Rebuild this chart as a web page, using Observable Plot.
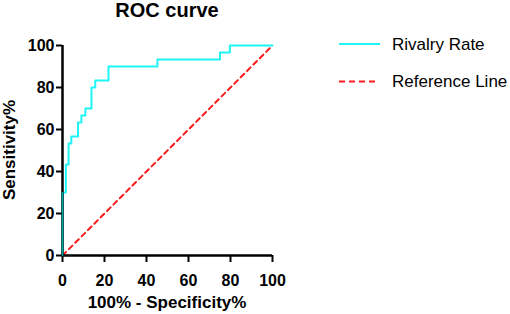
<!DOCTYPE html>
<html>
<head>
<meta charset="utf-8">
<script src="https://cdn.jsdelivr.net/npm/d3@7"></script>
<script src="https://cdn.jsdelivr.net/npm/@observablehq/plot@0.6"></script>
<style>
  html, body { margin: 0; padding: 0; background: #fff; }
  svg { font-family: "Liberation Sans", Arial, sans-serif; }
</style>
</head>
<body>
<div id="chart"></div>
<script>
// ROC curve steps: 100% - Specificity% (x) and Sensitivity% (y)
const fpr = [0, 0, 1.6, 1.6, 2.9, 2.9, 4.2, 4.2, 7.4, 7.4, 9.0, 9.0, 10.9, 10.9, 13.8, 13.8, 15.6, 15.6, 21.9, 21.9, 45.2, 45.2, 75.0, 75.0, 79.7, 79.7, 100];
const tpr = [0, 30.0, 30.0, 43.3, 43.3, 53.3, 53.3, 56.7, 56.7, 63.3, 63.3, 66.7, 66.7, 70.0, 70.0, 80.0, 80.0, 83.3, 83.3, 90.0, 90.0, 93.3, 93.3, 96.7, 96.7, 100, 100];
const refX = [0, 100];
const refY = [0, 100];
const ticks = [0, 20, 40, 60, 80, 100];
const seriesNames = ["Rivalry Rate", "Reference Line"];
const seriesColors = ["#1ff5f5", "#ff1a1a"];

const roc = fpr.map((x, i) => ({x, y: tpr[i]}));
const ref = refX.map((x, i) => ({x, y: refY[i]}));

const W = 510, H = 314;
const plot = Plot.plot({
  width: W,
  height: H,
  marginLeft: 62,
  marginRight: 238,
  marginTop: 45,
  marginBottom: 59,
  style: {fontFamily: "Liberation Sans, Arial, sans-serif", background: "#fff", overflow: "visible"},
  x: {domain: [0, 100]},
  y: {domain: [0, 100]},
  marks: [
    Plot.line(ref, {x: "x", y: "y", stroke: seriesColors[1], strokeWidth: 2, strokeDasharray: "5,4"}),
    Plot.line(roc, {x: "x", y: "y", stroke: seriesColors[0], strokeWidth: 2, curve: "linear"}),
    Plot.axisX({ticks, tickSize: 7, tickPadding: 12, fontSize: 16, fontWeight: "bold", stroke: "#000", strokeWidth: 2, label: null, fill: "#000"}),
    Plot.axisY({ticks, tickSize: 6, tickPadding: 2, fontSize: 16, fontWeight: "bold", stroke: "#000", strokeWidth: 2, label: null, fill: "#000"}),
    Plot.ruleX([0], {stroke: "#000", strokeWidth: 2.5}),
    Plot.ruleY([0], {stroke: "#000", strokeWidth: 2.5}),
    Plot.line(roc.slice(0, 2), {x: "x", y: "y", stroke: "#0aa", strokeWidth: 1.5})
  ]
});

const svg = d3.select(plot);
svg.append("text").attr("x", 167).attr("y", 17).attr("text-anchor", "middle")
  .attr("font-size", 20).attr("font-weight", "bold").attr("fill", "#000").text("ROC curve");
svg.append("text").attr("x", 167).attr("y", 308).attr("text-anchor", "middle")
  .attr("font-size", 17).attr("font-weight", "bold").attr("fill", "#000").text("100% - Specificity%");
svg.append("text").attr("transform", "translate(15,150) rotate(-90)").attr("text-anchor", "middle")
  .attr("font-size", 17).attr("font-weight", "bold").attr("fill", "#000").text("Sensitivity%");

const lg = svg.append("g");
const legY = [44, 81.5];
seriesNames.forEach((name, i) => {
  lg.append("line").attr("x1", 339).attr("x2", i === 0 ? 380 : 377).attr("y1", legY[i]).attr("y2", legY[i])
    .attr("stroke", seriesColors[i]).attr("stroke-width", 2)
    .attr("stroke-dasharray", i === 1 ? "6,4" : null);
  lg.append("text").attr("x", 392).attr("y", legY[i]).attr("dy", "0.35em").attr("text-anchor", "start")
    .attr("font-size", 17).attr("fill", "#000").text(name);
});

document.getElementById("chart").appendChild(plot);
</script>
</body>
</html>
